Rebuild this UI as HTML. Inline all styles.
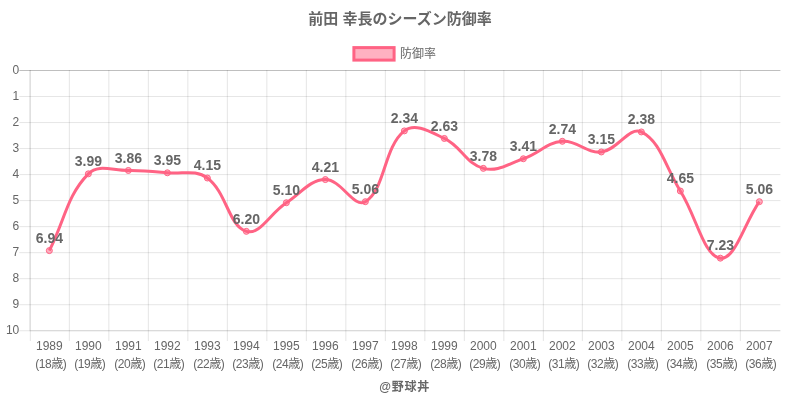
<!DOCTYPE html>
<html lang="ja"><head><meta charset="utf-8"><title>前田 幸長のシーズン防御率</title>
<style>
html,body{margin:0;padding:0;background:#fff;}
body{width:800px;height:400px;overflow:hidden;}
svg{display:block;}
text{font-family:"Liberation Sans","Noto Sans CJK JP",sans-serif;fill:#666;}
.t12{font-size:12px;}
.b{font-weight:bold;}
.dl{font-size:14px;font-weight:bold;}
.age{letter-spacing:-0.45px;}
</style></head><body>
<svg width="800" height="400" viewBox="0 0 800 400">
<rect width="800" height="400" fill="#fff"/>
<text x="400" y="24" text-anchor="middle" class="b" style="font-size:15px">前田 幸長のシーズン防御率</text>
<rect x="353.9" y="47.6" width="40.2" height="12.5" fill="rgba(255,99,132,0.5)" stroke="rgb(255,99,132)" stroke-width="3"/>
<text x="400" y="58" class="t12">防御率</text>
<g stroke-width="1">
<line x1="30.35" y1="70.00" x2="30.35" y2="341.00" stroke="rgba(0,0,0,0.1)"/>
<line x1="69.35" y1="70.00" x2="69.35" y2="341.00" stroke="rgba(0,0,0,0.1)"/>
<line x1="108.85" y1="70.00" x2="108.85" y2="341.00" stroke="rgba(0,0,0,0.1)"/>
<line x1="148.35" y1="70.00" x2="148.35" y2="341.00" stroke="rgba(0,0,0,0.1)"/>
<line x1="187.85" y1="70.00" x2="187.85" y2="341.00" stroke="rgba(0,0,0,0.1)"/>
<line x1="227.35" y1="70.00" x2="227.35" y2="341.00" stroke="rgba(0,0,0,0.1)"/>
<line x1="266.85" y1="70.00" x2="266.85" y2="341.00" stroke="rgba(0,0,0,0.1)"/>
<line x1="306.35" y1="70.00" x2="306.35" y2="341.00" stroke="rgba(0,0,0,0.1)"/>
<line x1="345.85" y1="70.00" x2="345.85" y2="341.00" stroke="rgba(0,0,0,0.1)"/>
<line x1="385.35" y1="70.00" x2="385.35" y2="341.00" stroke="rgba(0,0,0,0.1)"/>
<line x1="424.85" y1="70.00" x2="424.85" y2="341.00" stroke="rgba(0,0,0,0.1)"/>
<line x1="464.35" y1="70.00" x2="464.35" y2="341.00" stroke="rgba(0,0,0,0.1)"/>
<line x1="503.85" y1="70.00" x2="503.85" y2="341.00" stroke="rgba(0,0,0,0.1)"/>
<line x1="543.35" y1="70.00" x2="543.35" y2="341.00" stroke="rgba(0,0,0,0.1)"/>
<line x1="582.35" y1="70.00" x2="582.35" y2="341.00" stroke="rgba(0,0,0,0.1)"/>
<line x1="621.85" y1="70.00" x2="621.85" y2="341.00" stroke="rgba(0,0,0,0.1)"/>
<line x1="661.35" y1="70.00" x2="661.35" y2="341.00" stroke="rgba(0,0,0,0.1)"/>
<line x1="700.85" y1="70.00" x2="700.85" y2="341.00" stroke="rgba(0,0,0,0.1)"/>
<line x1="740.35" y1="70.00" x2="740.35" y2="341.00" stroke="rgba(0,0,0,0.1)"/>
<line x1="19.35" y1="70.50" x2="780.40" y2="70.50" stroke="rgba(0,0,0,0.25)"/>
<line x1="19.35" y1="96.53" x2="780.40" y2="96.53" stroke="rgba(0,0,0,0.1)"/>
<line x1="19.35" y1="122.55" x2="780.40" y2="122.55" stroke="rgba(0,0,0,0.1)"/>
<line x1="19.35" y1="148.57" x2="780.40" y2="148.57" stroke="rgba(0,0,0,0.1)"/>
<line x1="19.35" y1="174.60" x2="780.40" y2="174.60" stroke="rgba(0,0,0,0.1)"/>
<line x1="19.35" y1="200.62" x2="780.40" y2="200.62" stroke="rgba(0,0,0,0.1)"/>
<line x1="19.35" y1="226.65" x2="780.40" y2="226.65" stroke="rgba(0,0,0,0.1)"/>
<line x1="19.35" y1="252.68" x2="780.40" y2="252.68" stroke="rgba(0,0,0,0.1)"/>
<line x1="19.35" y1="278.70" x2="780.40" y2="278.70" stroke="rgba(0,0,0,0.1)"/>
<line x1="19.35" y1="304.73" x2="780.40" y2="304.73" stroke="rgba(0,0,0,0.1)"/>
<line x1="19.35" y1="330.75" x2="780.40" y2="330.75" stroke="rgba(0,0,0,0.1)"/>
<line x1="29.85" y1="70.00" x2="29.85" y2="330.25" stroke="rgba(0,0,0,0.1)"/>
<line x1="29.35" y1="330.75" x2="780.40" y2="330.75" stroke="rgba(0,0,0,0.1)"/>
</g>
<text x="19.3" y="74.00" text-anchor="end" class="t12">0</text>
<text x="19.3" y="100.03" text-anchor="end" class="t12">1</text>
<text x="19.3" y="126.05" text-anchor="end" class="t12">2</text>
<text x="19.3" y="152.07" text-anchor="end" class="t12">3</text>
<text x="19.3" y="178.10" text-anchor="end" class="t12">4</text>
<text x="19.3" y="204.12" text-anchor="end" class="t12">5</text>
<text x="19.3" y="230.15" text-anchor="end" class="t12">6</text>
<text x="19.3" y="256.18" text-anchor="end" class="t12">7</text>
<text x="19.3" y="282.20" text-anchor="end" class="t12">8</text>
<text x="19.3" y="308.23" text-anchor="end" class="t12">9</text>
<text x="19.3" y="334.25" text-anchor="end" class="t12">10</text>
<text x="49.35" y="349.6" text-anchor="middle" class="t12">1989</text>
<text x="50.75" y="367.6" text-anchor="middle" class="t12 age">(18歳)</text>
<text x="88.35" y="349.6" text-anchor="middle" class="t12">1990</text>
<text x="89.75" y="367.6" text-anchor="middle" class="t12 age">(19歳)</text>
<text x="128.35" y="349.6" text-anchor="middle" class="t12">1991</text>
<text x="129.75" y="367.6" text-anchor="middle" class="t12 age">(20歳)</text>
<text x="167.35" y="349.6" text-anchor="middle" class="t12">1992</text>
<text x="168.75" y="367.6" text-anchor="middle" class="t12 age">(21歳)</text>
<text x="207.35" y="349.6" text-anchor="middle" class="t12">1993</text>
<text x="208.75" y="367.6" text-anchor="middle" class="t12 age">(22歳)</text>
<text x="246.35" y="349.6" text-anchor="middle" class="t12">1994</text>
<text x="247.75" y="367.6" text-anchor="middle" class="t12 age">(23歳)</text>
<text x="286.35" y="349.6" text-anchor="middle" class="t12">1995</text>
<text x="287.75" y="367.6" text-anchor="middle" class="t12 age">(24歳)</text>
<text x="325.35" y="349.6" text-anchor="middle" class="t12">1996</text>
<text x="326.75" y="367.6" text-anchor="middle" class="t12 age">(25歳)</text>
<text x="365.35" y="349.6" text-anchor="middle" class="t12">1997</text>
<text x="366.75" y="367.6" text-anchor="middle" class="t12 age">(26歳)</text>
<text x="404.35" y="349.6" text-anchor="middle" class="t12">1998</text>
<text x="405.75" y="367.6" text-anchor="middle" class="t12 age">(27歳)</text>
<text x="444.35" y="349.6" text-anchor="middle" class="t12">1999</text>
<text x="445.75" y="367.6" text-anchor="middle" class="t12 age">(28歳)</text>
<text x="483.35" y="349.6" text-anchor="middle" class="t12">2000</text>
<text x="484.75" y="367.6" text-anchor="middle" class="t12 age">(29歳)</text>
<text x="523.35" y="349.6" text-anchor="middle" class="t12">2001</text>
<text x="524.75" y="367.6" text-anchor="middle" class="t12 age">(30歳)</text>
<text x="562.35" y="349.6" text-anchor="middle" class="t12">2002</text>
<text x="563.75" y="367.6" text-anchor="middle" class="t12 age">(31歳)</text>
<text x="601.35" y="349.6" text-anchor="middle" class="t12">2003</text>
<text x="602.75" y="367.6" text-anchor="middle" class="t12 age">(32歳)</text>
<text x="641.35" y="349.6" text-anchor="middle" class="t12">2004</text>
<text x="642.75" y="367.6" text-anchor="middle" class="t12 age">(33歳)</text>
<text x="680.35" y="349.6" text-anchor="middle" class="t12">2005</text>
<text x="681.75" y="367.6" text-anchor="middle" class="t12 age">(34歳)</text>
<text x="720.35" y="349.6" text-anchor="middle" class="t12">2006</text>
<text x="721.75" y="367.6" text-anchor="middle" class="t12 age">(35歳)</text>
<text x="759.35" y="349.6" text-anchor="middle" class="t12">2007</text>
<text x="760.75" y="367.6" text-anchor="middle" class="t12 age">(36歳)</text>
<text x="404.6" y="391.3" text-anchor="middle" class="t12 b" style="letter-spacing:0.7px">@野球丼</text>
<path d="M49.35,250.61 C64.95,219.90 66.80,195.71 88.35,173.84 C98.40,163.65 112.34,170.67 128.35,170.46 C143.94,170.25 151.80,171.31 167.35,172.80 C183.40,174.33 195.37,169.13 207.35,178.00 C226.97,192.55 228.23,225.69 246.35,231.35 C259.83,235.57 269.91,213.50 286.35,202.73 C301.51,192.79 309.61,179.77 325.35,179.57 C341.21,179.36 353.93,208.72 365.35,201.69 C385.53,189.25 383.33,147.72 404.35,130.90 C414.93,122.43 430.04,131.66 444.35,138.45 C461.64,146.65 466.15,163.95 483.35,168.37 C497.75,172.07 507.85,164.06 523.35,158.75 C539.45,153.23 546.32,142.70 562.35,141.31 C577.52,139.99 586.35,153.76 601.35,151.98 C617.95,150.01 629.11,125.89 641.35,131.94 C660.71,141.51 665.33,167.02 680.35,191.02 C696.93,217.51 703.52,255.89 720.35,258.16 C735.12,260.16 743.75,224.28 759.35,201.69" fill="none" stroke="rgb(255,99,132)" stroke-width="3" stroke-linejoin="miter"/>
<circle cx="49.35" cy="250.61" r="3" fill="rgba(255,99,132,0.5)" stroke="rgb(255,99,132)" stroke-width="1"/>
<circle cx="88.35" cy="173.84" r="3" fill="rgba(255,99,132,0.5)" stroke="rgb(255,99,132)" stroke-width="1"/>
<circle cx="128.35" cy="170.46" r="3" fill="rgba(255,99,132,0.5)" stroke="rgb(255,99,132)" stroke-width="1"/>
<circle cx="167.35" cy="172.80" r="3" fill="rgba(255,99,132,0.5)" stroke="rgb(255,99,132)" stroke-width="1"/>
<circle cx="207.35" cy="178.00" r="3" fill="rgba(255,99,132,0.5)" stroke="rgb(255,99,132)" stroke-width="1"/>
<circle cx="246.35" cy="231.35" r="3" fill="rgba(255,99,132,0.5)" stroke="rgb(255,99,132)" stroke-width="1"/>
<circle cx="286.35" cy="202.73" r="3" fill="rgba(255,99,132,0.5)" stroke="rgb(255,99,132)" stroke-width="1"/>
<circle cx="325.35" cy="179.57" r="3" fill="rgba(255,99,132,0.5)" stroke="rgb(255,99,132)" stroke-width="1"/>
<circle cx="365.35" cy="201.69" r="3" fill="rgba(255,99,132,0.5)" stroke="rgb(255,99,132)" stroke-width="1"/>
<circle cx="404.35" cy="130.90" r="3" fill="rgba(255,99,132,0.5)" stroke="rgb(255,99,132)" stroke-width="1"/>
<circle cx="444.35" cy="138.45" r="3" fill="rgba(255,99,132,0.5)" stroke="rgb(255,99,132)" stroke-width="1"/>
<circle cx="483.35" cy="168.37" r="3" fill="rgba(255,99,132,0.5)" stroke="rgb(255,99,132)" stroke-width="1"/>
<circle cx="523.35" cy="158.75" r="3" fill="rgba(255,99,132,0.5)" stroke="rgb(255,99,132)" stroke-width="1"/>
<circle cx="562.35" cy="141.31" r="3" fill="rgba(255,99,132,0.5)" stroke="rgb(255,99,132)" stroke-width="1"/>
<circle cx="601.35" cy="151.98" r="3" fill="rgba(255,99,132,0.5)" stroke="rgb(255,99,132)" stroke-width="1"/>
<circle cx="641.35" cy="131.94" r="3" fill="rgba(255,99,132,0.5)" stroke="rgb(255,99,132)" stroke-width="1"/>
<circle cx="680.35" cy="191.02" r="3" fill="rgba(255,99,132,0.5)" stroke="rgb(255,99,132)" stroke-width="1"/>
<circle cx="720.35" cy="258.16" r="3" fill="rgba(255,99,132,0.5)" stroke="rgb(255,99,132)" stroke-width="1"/>
<circle cx="759.35" cy="201.69" r="3" fill="rgba(255,99,132,0.5)" stroke="rgb(255,99,132)" stroke-width="1"/>
<text x="49.35" y="242.91" text-anchor="middle" class="dl">6.94</text>
<text x="88.35" y="166.14" text-anchor="middle" class="dl">3.99</text>
<text x="128.35" y="162.76" text-anchor="middle" class="dl">3.86</text>
<text x="167.35" y="165.10" text-anchor="middle" class="dl">3.95</text>
<text x="207.35" y="170.30" text-anchor="middle" class="dl">4.15</text>
<text x="246.35" y="223.66" text-anchor="middle" class="dl">6.20</text>
<text x="286.35" y="195.03" text-anchor="middle" class="dl">5.10</text>
<text x="325.35" y="171.87" text-anchor="middle" class="dl">4.21</text>
<text x="365.35" y="193.99" text-anchor="middle" class="dl">5.06</text>
<text x="404.35" y="123.20" text-anchor="middle" class="dl">2.34</text>
<text x="444.35" y="130.75" text-anchor="middle" class="dl">2.63</text>
<text x="483.35" y="160.67" text-anchor="middle" class="dl">3.78</text>
<text x="523.35" y="151.05" text-anchor="middle" class="dl">3.41</text>
<text x="562.35" y="133.61" text-anchor="middle" class="dl">2.74</text>
<text x="601.35" y="144.28" text-anchor="middle" class="dl">3.15</text>
<text x="641.35" y="124.24" text-anchor="middle" class="dl">2.38</text>
<text x="680.35" y="183.32" text-anchor="middle" class="dl">4.65</text>
<text x="720.35" y="250.46" text-anchor="middle" class="dl">7.23</text>
<text x="759.35" y="193.99" text-anchor="middle" class="dl">5.06</text>
</svg></body></html>
